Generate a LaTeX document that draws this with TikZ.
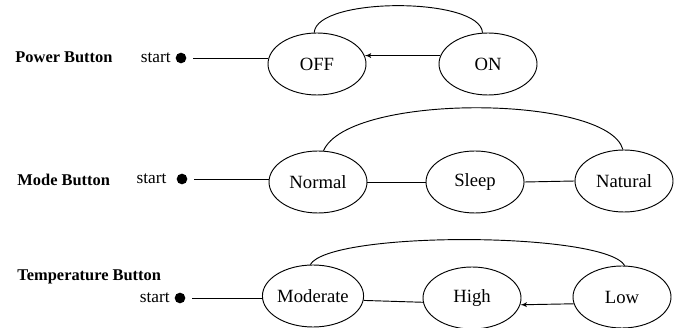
\documentclass[tikz,border=0pt]{standalone}
\usepackage{fontspec}
\setmainfont{Liberation Serif}
\usetikzlibrary{arrows,positioning,shapes.geometric}

\tikzset{
  stnode/.style={draw, ellipse, minimum width=73.5pt, minimum height=46.5pt, inner sep=0pt, font=\fontsize{14}{16}\selectfont},
  startdot/.style={circle, fill=black, minimum size=8pt, inner sep=0pt},
  startlbl/.style={inner sep=1pt, font=\fontsize{13}{15}\selectfont},
  btnlbl/.style={anchor=west, inner sep=0pt, font=\fontsize{12.3}{14}\selectfont\bfseries},
}

\begin{document}
\begin{tikzpicture}[
x=0.75pt, y=0.75pt, line width=0.7pt,
node distance = 2pt
]
\useasboundingbox (0,0) rectangle (681,328);

% power button
\node (pb) [btnlbl] at (15,271) {Power Button};
\node (d1) [startdot] at (181,270) {};
\node (s1) [startlbl, left=of d1] {start};
\node (off) [stnode] at (317,264) {OFF};
\node (on)  [stnode] at (488,264) {ON};

% mode button
\node (mb) [btnlbl] at (17,148) {Mode Button};
\node (d2) [startdot] at (182,149) {};
\node (s2) [startlbl, left=6pt of d2] {start};
\node (normal)  [stnode] at (318,146) {Normal};
\node (sleep)   [stnode] at (475,146) {Sleep};
\node (natural) [stnode] at (624,147) {Natural};

% temperature button
\node (tb) [btnlbl] at (17,51) {Temperature Button};
\node (d3) [startdot] at (180,30) {};
\node (s3) [startlbl, left=of d3] {start};
\node (moderate) [stnode] at (313,32) {Moderate};
\node (high)     [stnode] at (472,30) {High};
\node (low)      [stnode] at (622,31) {Low};

%
\draw[shorten <=5pt] (d1) -- (d1 -| off.west);
\draw[-latex'] (on.170) -- (off.10);
\draw (off.95) .. controls +(2,36) and +(-2,36) .. (on.100);

\draw[shorten <=5pt] (d2) -- (d2 -| normal.west);
\draw (normal.east) -- (sleep.west);
\draw (sleep.east) -- (natural.west);
\draw (normal.80) .. controls +(25,58) and +(-15,55) .. (natural.92);

\draw[shorten <=5pt] (d3) -- (d3 -| moderate.west);
\draw (moderate.-5) -- (high.185);
\draw[-latex'] (low.188) -- (high.-8);
\draw (moderate.95) .. controls +(20,34) and +(-20,34) .. (low.85);

\end{tikzpicture}
\end{document}
